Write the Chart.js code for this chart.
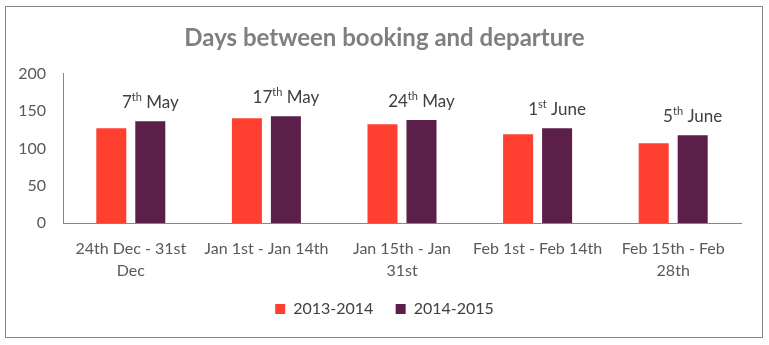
<!DOCTYPE html>
<html>
<head>
<meta charset="utf-8">
<script src="https://cdn.jsdelivr.net/npm/chart.js@4"></script>
<style>
html,body{margin:0;padding:0;background:#fff;}
#wrap{position:relative;width:769px;height:345px;}
#frame{position:absolute;left:5px;top:6px;width:756px;height:330px;border:1px solid #878787;pointer-events:none;}
canvas{position:absolute;left:0;top:0;}
</style>
</head>
<body>
<div id="wrap"><canvas id="c" width="769" height="345"></canvas><div id="frame"></div></div>
<script>
const categories = [["24th Dec - 31st","Dec"],["Jan 1st - Jan 14th"],["Jan 15th - Jan","31st"],["Feb 1st - Feb 14th"],["Feb 15th - Feb","28th"]];
const series2013 = [127, 140.5, 132.5, 119, 107];
const series2014 = [136.5, 143, 138, 127, 117.5];
const seriesNames = ["2013-2014","2014-2015"];
const noteDay = ["7","17","24","1","5"];
const noteSuffix = ["th","th","th","st","th"];
const noteMonth = ["May","May","May","June","June"];
const yTicks = [0,50,100,150,200];

const FONT = "Lato, 'Liberation Sans', sans-serif";

const notePlugin = {
  id: 'notes',
  afterDatasetsDraw(chart) {
    const meta = chart.getDatasetMeta(1);
    const ctx = chart.ctx;
    ctx.save();
    ctx.fillStyle = '#404040';
    ctx.textBaseline = 'middle';
    meta.data.forEach((bar, i) => {
      const big = "17px " + FONT, small = "11px " + FONT;
      ctx.font = big;
      const w1 = ctx.measureText(noteDay[i]).width;
      const w3 = ctx.measureText(" " + noteMonth[i]).width;
      ctx.font = small;
      const w2 = ctx.measureText(noteSuffix[i]).width;
      const total = w1 + w2 + w3;
      let x = bar.x - total / 2;
      const y = bar.y - 19;
      ctx.textAlign = 'left';
      ctx.font = big;
      ctx.fillText(noteDay[i], x, y);
      x += w1;
      ctx.font = small;
      ctx.fillText(noteSuffix[i], x, y - 5);
      x += w2;
      ctx.font = big;
      ctx.fillText(" " + noteMonth[i], x, y);
    });
    ctx.restore();
  }
};

new Chart(document.getElementById('c'), {
  type: 'bar',
  data: {
    labels: categories,
    datasets: [
      {label: seriesNames[0], data: series2013, backgroundColor: '#ff3f2f', categoryPercentage: 0.575, barPercentage: 0.77},
      {label: seriesNames[1], data: series2014, backgroundColor: '#5c1f4a', categoryPercentage: 0.575, barPercentage: 0.77}
    ]
  },
  options: {
    responsive: false,
    animation: false,
    layout: {padding: {left: 0, right: 0, top: 0, bottom: 18}},
    plugins: {
      title: {display: true, text: 'Days between booking and departure', color: '#7f7f7f',
        font: {family: FONT, size: 24, weight: 'bold'}, padding: {top: 24, bottom: 21}},
      legend: {position: 'bottom', labels: {boxWidth: 10, boxHeight: 10, padding: 10, color: '#404040',
        font: {family: FONT, size: 16},
        generateLabels(chart) {
          return chart.data.datasets.map((d, i) => ({
            text: d.label + (i === 0 ? '   ' : ''), fillStyle: d.backgroundColor, strokeStyle: d.backgroundColor,
            lineWidth: 0, hidden: false, datasetIndex: i, fontColor: '#404040'
          }));
        }}},
      tooltip: {enabled: false}
    },
    scales: {
      x: {
        grid: {display: false, drawTicks: false},
        border: {display: true, color: '#868686', width: 1},
        ticks: {color: '#595959', font: {family: FONT, size: 16, lineHeight: 1.375}, padding: 15, maxRotation: 0, autoSkip: false},
        afterFit(s) { s.height = 68; }
      },
      y: {
        min: 0, max: 200,
        grid: {display: false, drawTicks: false},
        border: {display: true, color: '#868686', width: 1},
        ticks: {color: '#595959', font: {family: FONT, size: 16}, padding: 17, stepSize: 50,
          callback: (v) => yTicks.includes(v) ? String(v) : ''},
        afterFit(s) { s.width = 63; }
      },
      spacer: {
        type: 'linear', position: 'right', display: true,
        grid: {display: false, drawTicks: false},
        border: {display: false},
        ticks: {display: false},
        afterFit(s) { s.width = 28; }
      }
    }
  },
  plugins: [notePlugin]
});
</script>
</body>
</html>
